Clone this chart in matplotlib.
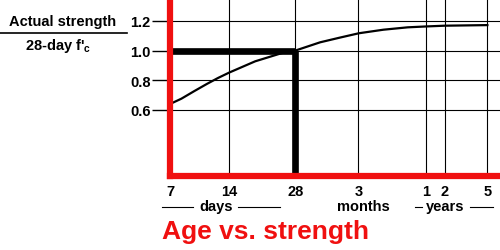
import numpy as np
import matplotlib.pyplot as plt
from matplotlib.lines import Line2D

plt.rcParams['font.family'] = ['Liberation Sans', 'DejaVu Sans']
plt.rcParams['font.weight'] = 'bold'
plt.rcParams['mathtext.fontset'] = 'custom'
plt.rcParams['mathtext.rm'] = 'Liberation Sans:bold'
plt.rcParams['mathtext.bf'] = 'Liberation Sans:bold'

# data (age in days, strength ratio)
age_days = [7, 8, 9.3, 10.8, 12.3, 14, 18.4, 24.3, 28, 44.4, 63.5, 91, 151, 249, 365, 730, 1825]
strength = [0.64, 0.676, 0.727, 0.776, 0.816, 0.852, 0.928, 0.983, 1.0, 1.056, 1.087, 1.117,
            1.141, 1.157, 1.163, 1.168, 1.172]
tick_days = [7, 14, 28, 90, 365, 730, 1825]
tick_labels = ['7', '14', '28', '3', '1', '2', '5']
y_ticks = [0.6, 0.8, 1.0, 1.2]
y_labels = ['0.6', '0.8', '1.0', '1.2']
ref_age = 28
ref_strength = 1.0

# hand drawn, uneven time axis
scale_days = np.log([7, 14, 28, 90, 365, 730, 1825, 3650])
scale_pos = np.array([160, 221, 289, 354, 424, 443, 487, 520], dtype=float)


def fwd(d):
    d = np.clip(np.asarray(d, dtype=float), 1e-6, None)
    return np.interp(np.log(d), scale_days, scale_pos)


def inv(p):
    p = np.asarray(p, dtype=float)
    return np.exp(np.interp(p, scale_pos, scale_days))


red = '#f01010'
fig = plt.figure(figsize=(5, 2.51), dpi=100)
ax = fig.add_axes([0.34, 0.295, 0.66, 0.705])
ax.set_xscale('function', functions=(fwd, inv))
ax.set_xlim(inv(168), inv(500))
ax.set_ylim(0.155, 1.348)

for d in tick_days[1:]:
    ax.axvline(d, color='black', lw=0.8, zorder=1)
for v in y_ticks:
    ax.axhline(v, color='black', lw=0.8, zorder=1)

ax.plot(age_days, strength, color='black', lw=1.6, zorder=3, solid_joinstyle='round')
ax.plot([age_days[0], ref_age], [ref_strength, ref_strength], color='black', lw=4.8,
        solid_capstyle='butt', zorder=4)
ax.plot([ref_age, ref_age], [0.155, ref_strength], color='black', lw=4.8,
        solid_capstyle='butt', zorder=4)

for s in ['top', 'right']:
    ax.spines[s].set_visible(False)
for s in ['left', 'bottom']:
    ax.spines[s].set_color(red)
    ax.spines[s].set_linewidth(4.5)
    ax.spines[s].set_zorder(5)

ax.set_xticks(tick_days)
ax.set_xticklabels(tick_labels)
ax.xaxis.set_minor_locator(plt.NullLocator())
ax.tick_params(axis='x', length=0, pad=6, labelsize=10.5)
ax.set_yticks(y_ticks)
ax.set_yticklabels(y_labels)
ax.tick_params(axis='y', length=13, width=1, color='black', pad=1, labelsize=10.5)

W, H = 500.0, 251.0


def fx(px):
    return px / W


def fy(py):
    return 1 - py / H


fig.text(fx(63), fy(22), 'Actual strength', ha='center', va='center', fontsize=10.5,
         fontweight='bold')
fig.add_artist(Line2D([fx(0), fx(127)], [fy(34), fy(34)], color='black', lw=1.2))
fig.text(fx(58), fy(46), "28-day f'$_\\mathbf{c}$", ha='center', va='center', fontsize=10.5,
         fontweight='bold')

fig.text(fx(216), fy(207), 'days', ha='center', va='center', fontsize=10.5)
fig.add_artist(Line2D([fx(162), fx(193)], [fy(208), fy(208)], color='black', lw=0.8))
fig.add_artist(Line2D([fx(238), fx(280)], [fy(208), fy(208)], color='black', lw=0.8))
fig.text(fx(363), fy(207), 'months', ha='center', va='center', fontsize=10.5)
fig.text(fx(445), fy(207), 'years', ha='center', va='center', fontsize=10.5)
fig.add_artist(Line2D([fx(415), fx(422)], [fy(208), fy(208)], color='black', lw=0.8))
fig.add_artist(Line2D([fx(470), fx(493)], [fy(208), fy(208)], color='black', lw=0.8))

fig.text(fx(265), fy(232), 'Age vs. strength', ha='center', va='center', fontsize=19,
         fontweight='bold', color=red)

fig.savefig('out.png', dpi=100)
